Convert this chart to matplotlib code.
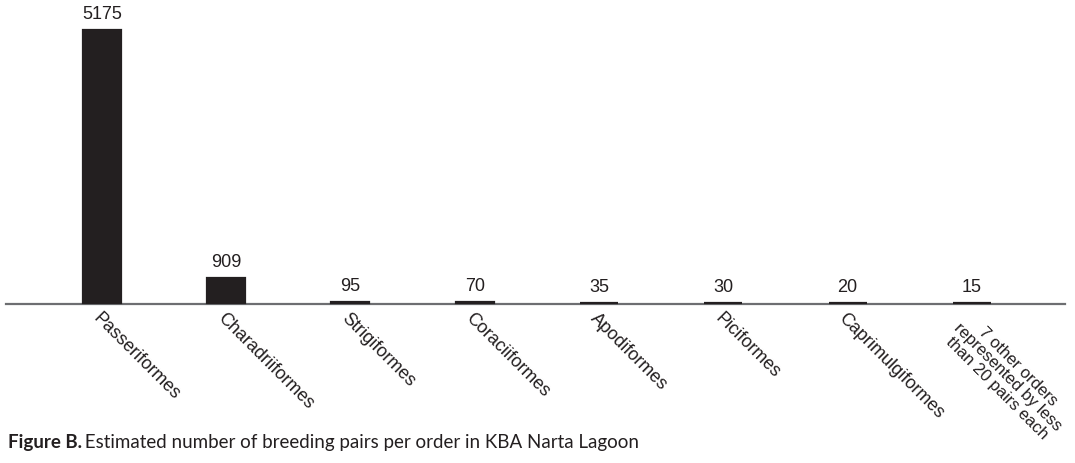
import matplotlib
matplotlib.use("Agg")
import matplotlib.pyplot as plt
import numpy as np

# data
orders = ["Passeriformes", "Charadriiformes", "Strigiformes", "Coraciiformes",
          "Apodiformes", "Piciformes", "Caprimulgiformes",
          "7 other orders\nrepresented by less\nthan 20 pairs each"]
pairs = [5175, 909, 95, 70, 35, 30, 20, 15]

caption_bold = "Figure B."
caption_text = " Estimated number of breeding pairs per order in KBA Narta Lagoon"

INK = "#231f20"

plt.rcParams["font.family"] = ["Liberation Sans", "DejaVu Sans"]

fig = plt.figure(figsize=(10.75, 4.63), dpi=100)
ax = fig.add_axes([6 / 1075, 160 / 463, 1059 / 1075, 273 / 463])

# the original bars are not drawn to a linear scale
p = 1.37
ax.set_yscale("function", functions=(lambda y: np.sign(y) * np.abs(y) ** p,
                                     lambda y: np.sign(y) * np.abs(y) ** (1 / p)))

x = np.arange(len(orders))
ax.bar(x, pairs, width=0.306, color=INK, edgecolor=INK, linewidth=1.6,
       zorder=3, clip_on=False)
ax.set_ylim(0, max(pairs))
ax.set_xlim(-0.772, 7.75)

for xi, v in zip(x, pairs):
    ax.annotate(str(v), (xi, v), xytext=(0, 5), textcoords="offset points",
                ha="center", va="bottom", fontsize=13, color=INK)

for s in ["top", "right", "left"]:
    ax.spines[s].set_visible(False)
ax.spines["bottom"].set_color("#6d6e71")
ax.spines["bottom"].set_linewidth(1.6)
ax.spines["bottom"].set_position(("outward", 1))
ax.set_yticks([])
ax.set_xticks(x)
ax.set_xticklabels(orders, rotation=-45, ha="left", va="top",
                   rotation_mode="anchor", fontsize=13, color=INK,
                   multialignment="center", linespacing=1.0)
ax.tick_params(axis="x", length=0, pad=4)
# the three-line label is set a touch smaller so it stays inside the figure
ax.get_xticklabels()[-1].set_fontsize(12)

fig.text(8 / 1075, 1 - 448 / 463, caption_bold, fontsize=13.5, fontweight="bold",
         color=INK, family=["Lato", "DejaVu Sans"], va="baseline")
fig.text(80 / 1075, 1 - 448 / 463, caption_text, fontsize=13.5,
         color=INK, family=["Lato", "DejaVu Sans"], va="baseline")

fig.savefig("out.png", dpi=100)
